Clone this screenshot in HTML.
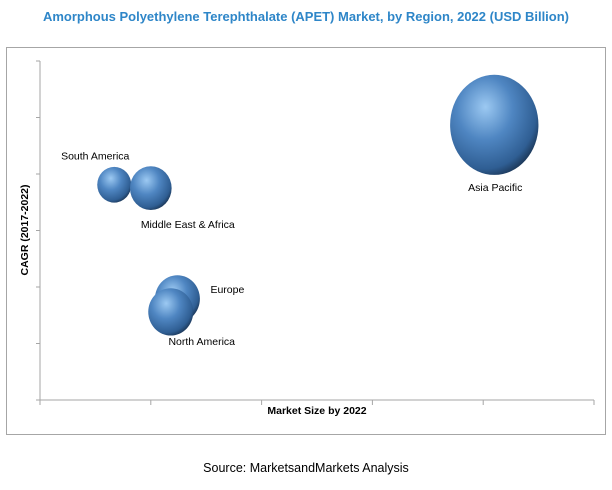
<!DOCTYPE html>
<html><head><meta charset="utf-8"><style>
body{margin:0;background:#fff;width:612px;height:485px;overflow:hidden;font-family:"Liberation Sans",sans-serif}
</style></head><body>
<svg width="612" height="485" viewBox="0 0 612 485">
<defs>
<radialGradient id="g" cx="0.38" cy="0.35" r="0.7" fx="0.4" fy="0.32">
<stop offset="0" stop-color="#9cc9f2"/>
<stop offset="0.45" stop-color="#4f86c2"/>
<stop offset="0.85" stop-color="#2f5e93"/>
<stop offset="1" stop-color="#1b3656"/>
</radialGradient>
</defs>
<text x="306" y="21" text-anchor="middle" font-size="12.5" font-weight="bold" fill="#2e86c8" textLength="526" lengthAdjust="spacingAndGlyphs">Amorphous Polyethylene Terephthalate (APET) Market, by Region, 2022  (USD Billion)</text>
<rect x="6.5" y="47.5" width="599" height="387" fill="#fff" stroke="#a6a6a6"/>
<g id="axes" stroke="#a6a6a6" fill="none"></g>
<g id="bubbles"></g>
<g id="labels" font-size="10.5" fill="#000"></g>
<text x="317" y="414" text-anchor="middle" font-size="10.5" font-weight="bold">Market Size by 2022</text>
<text transform="translate(28,230) rotate(-90)" text-anchor="middle" font-size="10.5" font-weight="bold">CAGR (2017-2022)</text>
<text x="306" y="472" text-anchor="middle" font-size="12.5">Source: MarketsandMarkets Analysis</text>
</svg>
<script>
const regions=["Asia Pacific","South America","Middle East & Africa","Europe","North America"];
const marketSize=[4.10,0.67,1.00,1.24,1.18];
const cagr=[4.87,3.81,3.75,1.79,1.56];
const bubbleSize=[8.1,1.2,1.8,2.1,2.1];
const xTicks=[0,1,2,3,4,5];
const yTicks=[0,1,2,3,4,5,6];
const labelOffsets=[[1,66],[-19,-25],[37,40],[50,-6],[31,33]];
const X0=40,X1=594,Y0=400,Y1=61;
const xs=v=>X0+(X1-X0)*v/5, ys=v=>Y0-(Y0-Y1)*v/6, rs=v=>16*Math.sqrt(v);
const NS="http://www.w3.org/2000/svg";
const ax=document.getElementById('axes');
function ln(x1,y1,x2,y2,n){const l=document.createElementNS(NS,'line');l.setAttribute('x1',x1);l.setAttribute('y1',y1);l.setAttribute('x2',x2);l.setAttribute('y2',y2);


ax.appendChild(l);}
ln(X0,Y0,X0,Y1,'y-axis');ln(X0,Y0,X1,Y0,'x-axis');
xTicks.forEach(t=>ln(xs(t),Y0,xs(t),Y0+5,'x-tick'));
yTicks.forEach(t=>ln(X0-4,ys(t),X0,ys(t),'y-tick'));
const bg=document.getElementById('bubbles'),lg=document.getElementById('labels');
regions.forEach((r,i)=>{
const c=document.createElementNS(NS,'ellipse');
const rr=rs(bubbleSize[i]);
c.setAttribute('cx',xs(marketSize[i]));c.setAttribute('cy',ys(cagr[i]));c.setAttribute('rx',rr*0.97);c.setAttribute('ry',rr*(i===0?1.1:1.02));c.setAttribute('fill','url(#g)');


bg.appendChild(c);
const t=document.createElementNS(NS,'text');
t.setAttribute('x',xs(marketSize[i])+labelOffsets[i][0]);t.setAttribute('y',ys(cagr[i])+labelOffsets[i][1]);t.setAttribute('text-anchor','middle');
t.textContent=r;


lg.appendChild(t);
});
</script>
</body></html>
